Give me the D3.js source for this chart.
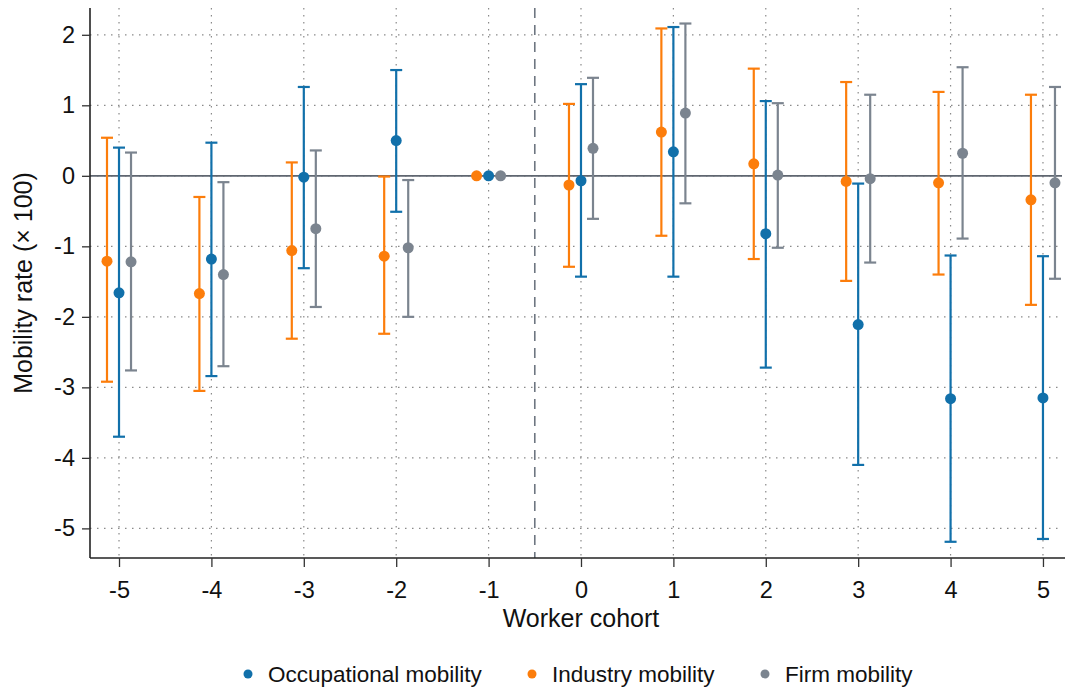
<!DOCTYPE html>
<html lang="en">
<head>
    <meta charset="UTF-8">
    <title>Mobility rate by worker cohort</title>
    <script src="https://d3js.org/d3.v7.min.js"></script>
    <style>
        body { margin: 0; background: #fff; }
        text { font-family: "Liberation Sans", Arial, sans-serif; fill: #111; }
        .grid line { stroke: #8a8a8a; stroke-width: 1.2; stroke-dasharray: 1.5,5.5; }
    </style>
</head>
<body>
    <svg width="1065" height="690"></svg>

    <script>
        // cohorts (x) and tick labels
        const cohorts = [-5, -4, -3, -2, -1, 0, 1, 2, 3, 4, 5];
        const yTicks = [-5, -4, -3, -2, -1, 0, 1, 2];

        // occupational mobility: estimate, lower, upper
        const occEst   = [-1.66, -1.18, -0.02, 0.50, 0, -0.07, 0.34, -0.82, -2.11, -3.16, -3.15];
        const occLow   = [-3.70, -2.84, -1.31, -0.51, null, -1.43, -1.43, -2.72, -4.10, -5.19, -5.15];
        const occHigh  = [0.40, 0.47, 1.26, 1.50, null, 1.30, 2.11, 1.06, -0.11, -1.13, -1.14];

        // industry mobility
        const indEst   = [-1.21, -1.67, -1.06, -1.14, 0, -0.13, 0.62, 0.17, -0.08, -0.10, -0.34];
        const indLow   = [-2.92, -3.05, -2.31, -2.24, null, -1.29, -0.85, -1.18, -1.49, -1.40, -1.83];
        const indHigh  = [0.54, -0.30, 0.19, -0.01, null, 1.02, 2.09, 1.52, 1.33, 1.19, 1.15];

        // firm mobility
        const firmEst  = [-1.22, -1.40, -0.75, -1.02, 0, 0.39, 0.89, 0.01, -0.04, 0.32, -0.10];
        const firmLow  = [-2.76, -2.70, -1.86, -2.00, null, -0.61, -0.39, -1.02, -1.23, -0.89, -1.46];
        const firmHigh = [0.33, -0.09, 0.36, -0.06, null, 1.39, 2.16, 1.03, 1.15, 1.54, 1.26];

        const series = [
            { name: "Occupational mobility", color: "#1170aa", offset: 0,     est: occEst,  low: occLow,  high: occHigh },
            { name: "Industry mobility",     color: "#fc7d0b", offset: -0.13, est: indEst,  low: indLow,  high: indHigh },
            { name: "Firm mobility",         color: "#7b848f", offset: 0.13,  est: firmEst, low: firmLow, high: firmHigh }
        ];

        const svg = d3.select("svg");
        const plotLeft = 90, plotRight = 1062, plotTop = 8, plotBottom = 558;

        const x = d3.scaleLinear().domain([-5.314, 5.206]).range([plotLeft, plotRight]);
        const y = d3.scaleLinear().domain([-5.42, 2.38]).range([plotBottom, plotTop]);

        // grid
        const grid = svg.append("g").attr("class", "grid");
        grid.selectAll("line.h").data(yTicks).enter().append("line")
            .attr("x1", plotLeft).attr("x2", plotRight)
            .attr("y1", d => y(d)).attr("y2", d => y(d));
        grid.selectAll("line.v").data(cohorts).enter().append("line")
            .attr("x1", d => x(d)).attr("x2", d => x(d))
            .attr("y1", plotTop).attr("y2", plotBottom);

        // zero line and event line
        svg.append("line")
            .attr("x1", plotLeft).attr("x2", plotRight)
            .attr("y1", y(0)).attr("y2", y(0))
            .attr("stroke", "#5f6670").attr("stroke-width", 1.8);
        svg.append("line")
            .attr("x1", x(-0.5)).attr("x2", x(-0.5))
            .attr("y1", plotTop).attr("y2", plotBottom)
            .attr("stroke", "#6e7681").attr("stroke-width", 1.6)
            .attr("stroke-dasharray", "10,7");

        // axes (plain hyphen for negatives, as in the original)
        const fmt = d => String(d);
        const yAxis = svg.append("g")
            .attr("transform", `translate(${plotLeft},0)`)
            .call(d3.axisLeft(y).tickValues(yTicks).tickSize(8).tickPadding(7).tickFormat(fmt));
        const xAxis = svg.append("g")
            .attr("transform", `translate(0,${plotBottom})`)
            .call(d3.axisBottom(x).tickValues(cohorts).tickSize(9).tickPadding(14).tickFormat(fmt));
        [yAxis, xAxis].forEach(a => {
            a.attr("font-size", 23.5).attr("font-family", "'Liberation Sans', Arial, sans-serif");
            a.select(".domain").attr("stroke", "#222").attr("stroke-width", 1.6);
            a.selectAll(".tick line").attr("stroke", "#333").attr("stroke-width", 1.3);
            a.selectAll(".tick text").attr("fill", "#111");
        });
        // axis lines like the original frame
        yAxis.select(".domain").attr("d", `M0,${plotTop}V${plotBottom}`);
        xAxis.select(".domain").attr("d", `M${plotLeft},0H1065`);

        // error bars and points
        const capW = 6;
        series.forEach(s => {
            const g = svg.append("g");
            const rows = cohorts.map((c, i) => ({ c: c, est: s.est[i], low: s.low[i], high: s.high[i] }));
            const bars = rows.filter(r => r.low !== null);
            g.selectAll("line.bar").data(bars).enter().append("line")
                .attr("x1", d => x(d.c + s.offset)).attr("x2", d => x(d.c + s.offset))
                .attr("y1", d => y(d.low)).attr("y2", d => y(d.high))
                .attr("stroke", s.color).attr("stroke-width", 2.2);
            ["low", "high"].forEach(k => {
                g.selectAll("line.cap" + k).data(bars).enter().append("line")
                    .attr("x1", d => x(d.c + s.offset) - capW).attr("x2", d => x(d.c + s.offset) + capW)
                    .attr("y1", d => y(d[k])).attr("y2", d => y(d[k]))
                    .attr("stroke", s.color).attr("stroke-width", 2.2);
            });
            g.selectAll("circle").data(rows).enter().append("circle")
                .attr("cx", d => x(d.c + s.offset)).attr("cy", d => y(d.est))
                .attr("r", 5.5).attr("fill", s.color);
        });

        // axis titles
        svg.append("text")
            .attr("x", x(0)).attr("y", 627)
            .attr("text-anchor", "middle").attr("font-size", 25)
            .text("Worker cohort");
        svg.append("text")
            .attr("transform", `translate(32,${(plotTop + plotBottom) / 2}) rotate(-90)`)
            .attr("text-anchor", "middle").attr("font-size", 25)
            .text("Mobility rate (\u00d7 100)");

        // legend
        const legendX = [248, 532, 765];
        const legend = svg.append("g");
        series.forEach((s, i) => {
            legend.append("circle").attr("cx", legendX[i]).attr("cy", 674).attr("r", 4.5).attr("fill", s.color);
            legend.append("text").attr("x", legendX[i] + 20).attr("y", 682)
                .attr("font-size", 22.5).text(s.name);
        });
    </script>
</body>
</html>
